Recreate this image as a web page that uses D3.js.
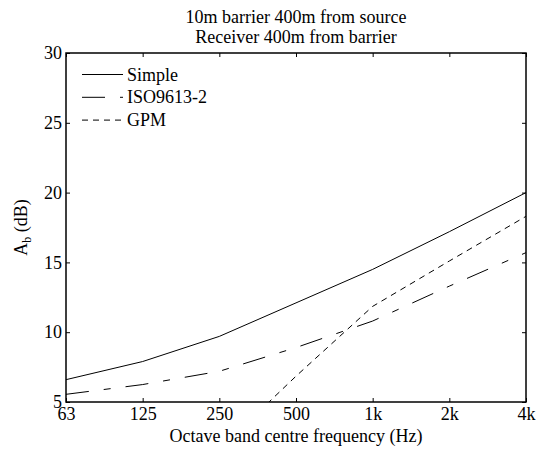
<!DOCTYPE html>
<html lang="en">
<head>
<meta charset="UTF-8">
<title>Barrier attenuation</title>
<script src="https://d3js.org/d3.v7.min.js"></script>
<style>
body{margin:0;background:#fff}
svg{display:block}
.tick text,.lbl{font-family:"Liberation Serif","Times New Roman",serif;font-size:18px;fill:#000}
</style>
</head>
<body>
<div id="chart"></div>
<script>
// octave band centres and attenuation A_b in dB
const bands = ['63', '125', '250', '500', '1k', '2k', '4k'];
const simple = [6.6, 7.9, 9.7, 12.1, 14.5, 17.2, 20.0];
const iso = [5.55, 6.25, 7.2, 8.9, 10.8, 13.3, 15.7];
const gpm = [null, null, 1.6, 6.85, 11.85, 15.1, 18.3];
const yTicks = [5, 10, 15, 20, 25, 30];

const series = [
  { name: 'Simple', values: simple, dash: null },
  { name: 'ISO9613-2', values: iso, dash: '23,15,7,15' },
  { name: 'GPM', values: gpm, dash: '6,5' }
];

const W = 536, H = 450;
const margin = { top: 53, right: 10, bottom: 48, left: 66 };
const w = W - margin.left - margin.right;
const h = H - margin.top - margin.bottom;
const serif = '"Liberation Serif","Times New Roman",serif';

const svg = d3.select('#chart').append('svg').attr('width', W).attr('height', H);
const g = svg.append('g').attr('transform', 'translate(' + margin.left + ',' + margin.top + ')');

const x = d3.scalePoint().domain(bands).range([0, w]);
const y = d3.scaleLinear().domain([5, 30]).range([h, 0]);

g.append('clipPath').attr('id', 'plotClip')
  .append('rect').attr('width', w).attr('height', h);

// lines
const line = d3.line()
  .defined(function(d) { return d != null; })
  .x(function(d, i) { return x(bands[i]); })
  .y(function(d) { return y(d); });

series.forEach(function(s) {
  g.append('path')
    .attr('clip-path', 'url(#plotClip)')
    .attr('d', line(s.values))
    .attr('fill', 'none')
    .attr('stroke', '#000')
    .attr('stroke-width', 1)
    .attr('stroke-dasharray', s.dash);
});

// axes with inward ticks on all four sides
function styleAxis(sel) {
  sel.attr('font-family', serif).attr('font-size', 18);
  sel.select('.domain').remove();
  sel.selectAll('.tick line').attr('stroke', '#000');
}
g.append('g').attr('transform', 'translate(0,' + h + ')')
  .call(d3.axisBottom(x).tickSizeInner(-4).tickPadding(5))
  .call(styleAxis);
g.append('g').call(d3.axisTop(x).tickSizeInner(-4).tickFormat(''))
  .call(styleAxis);
g.append('g')
  .call(d3.axisLeft(y).tickValues(yTicks).tickSizeInner(-4).tickPadding(4))
  .call(styleAxis);
g.append('g').attr('transform', 'translate(' + w + ',0)')
  .call(d3.axisRight(y).tickValues(yTicks).tickSizeInner(-4).tickFormat(''))
  .call(styleAxis);

g.append('rect').attr('width', w).attr('height', h)
  .attr('fill', 'none').attr('stroke', '#000').attr('stroke-width', 1.5);

// legend
const legend = g.append('g').attr('transform', 'translate(16,21.5)');
series.forEach(function(s, i) {
  const row = legend.append('g').attr('transform', 'translate(0,' + (i * 22.8) + ')');
  row.append('line').attr('x1', 0).attr('x2', 41)
    .attr('stroke', '#000').attr('stroke-width', 1)
    .attr('stroke-dasharray', s.dash);
  row.append('text').attr('class', 'lbl').attr('x', 45).attr('y', 6).text(s.name);
});

// titles
svg.append('text').attr('class', 'lbl').attr('text-anchor', 'middle')
  .attr('x', margin.left + w / 2).attr('y', 23).text('10m barrier 400m from source');
svg.append('text').attr('class', 'lbl').attr('text-anchor', 'middle')
  .attr('x', margin.left + w / 2).attr('y', 43).text('Receiver 400m from barrier');

svg.append('text').attr('class', 'lbl').attr('text-anchor', 'middle')
  .attr('x', margin.left + w / 2).attr('y', 442).text('Octave band centre frequency (Hz)');

const yl = svg.append('text').attr('class', 'lbl').attr('text-anchor', 'middle')
  .attr('transform', 'translate(27,' + (margin.top + h / 2) + ') rotate(-90)');
yl.append('tspan').text('A');
yl.append('tspan').attr('dy', 4).style('font-size', '12px').text('b');
yl.append('tspan').attr('dy', -4).text(' (dB)');
</script>
</body>
</html>
